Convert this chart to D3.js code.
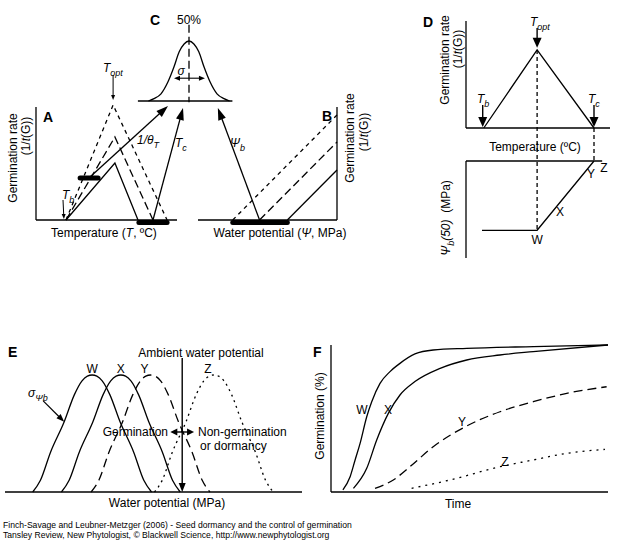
<!DOCTYPE html>
<html><head><meta charset="utf-8">
<script src="https://cdn.jsdelivr.net/npm/d3@7"></script>
<style>
body{margin:0;background:#fff}
text{font-family:"Liberation Sans",Arial,Helvetica,sans-serif;fill:#000;stroke:none}
</style>
</head><body>
<svg id="c" width="621" height="553"></svg>
<script>
// ---------------- DATA ----------------
// Panel A: temperature (°C) vs germination rate, three seed fractions
const aTb = 10;
const aSolid = [[10,0],[26.3,0.57],[34,0]];
const aLongDash = [[10,0],[26.3,0.83],[39,0]];
const aShortDash = [[10,0],[25.7,1.15],[43.7,0]];
const aSlopeBar = [14.7, 20.7];   // spread of 1/θT (rate 0.42)
const aTcBar = [34.3, 43.7];      // spread of Tc
// Panel B: water potential (MPa) vs germination rate
const bSolid = [[-0.50,0],[0,0.50]];
const bLongDash = [[-0.78,0],[0,0.78]];
const bShortDash = [[-1.05,0],[0,1.05]];
const bPsiBar = [-1.05, -0.50];
// Panel C: normal distribution profile (offset in σ, relative height)
const cProfile = [[-2.9,0],[-2.5,0.04],[-2,0.12],[-1.5,0.32],[-1.07,0.57],[-0.7,0.82],[-0.35,0.95],[0,1],
                  [0.35,0.95],[0.7,0.82],[1.07,0.57],[1.5,0.32],[2,0.12],[2.5,0.04],[2.9,0]];
// Panel D: cardinal temperatures, rate and Ψb(50)
const dTemps = [5, 20, 36];             // Tb, Topt, Tc
const dRates = [0, 0.73, 0];
const dPsi50 = [[4.5,-1.0],[20,-1.0],[36,0]];
const dLabels = ["W","X","Y","Z"];
// Panel E: Ψb distributions
const eNames = ["W","X","Y","Z"];
const eCenters = [-2.12, -1.83, -1.53, -0.89];
const eHalfWidth = 0.6;
const eProfile = [[-1,0],[-0.87,0.1],[-0.7,0.34],[-0.47,0.6],[-0.3,0.83],[-0.17,0.95],[-0.08,0.99],[0,1],
                  [0.08,0.99],[0.17,0.95],[0.3,0.83],[0.47,0.6],[0.7,0.34],[0.87,0.1],[1,0]];
const eAmbient = -1.21;
// Panel F: germination time courses (time %, germination %)
const fW = [[4.3,1.4],[6.9,10.4],[8.7,21.8],[10.5,33.1],[12.9,51.2],[14.7,61.4],[17.7,73.9],[21.3,81.9],[24.9,87.5],[30.3,93.9],[36.9,96.6],[49,97.7],[73.1,98.9],[100,100]];
const fX = [[8.1,2.5],[12.9,16.1],[16.5,35.4],[20.7,53.5],[24.9,66],[30.3,75.1],[39.4,84.1],[49,89.8],[61,93.2],[73,95.5],[100,100]];
const fY = [[15.9,2.5],[22.5,8.2],[28.5,17.2],[36.9,30.8],[49,44.9],[61,54.6],[73,61.4],[85.1,67.1],[99.5,71.6]];
const fZ = [[29.1,2.5],[43,8.2],[61,17.2],[73,21.8],[85.1,26.3],[98.9,29]];
const footer = ["Finch-Savage and Leubner-Metzger (2006) - Seed dormancy and the control of germination",
                "Tansley Review, New Phytologist, \u00A9 Blackwell Science, http://www.newphytologist.org"];

// ---------------- HELPERS ----------------
const svg = d3.select('#c');
const G = svg.append('g').attr('fill','none').attr('stroke','#000').attr('stroke-width',1.3);
const SD = '4,4', LD = '8,4';

function seg(x1,y1,x2,y2,dash,w){
  const l = G.append('line').attr('x1',x1).attr('y1',y1).attr('x2',x2).attr('y2',y2);
  if(dash) l.attr('stroke-dasharray',dash);
  if(w) l.attr('stroke-width',w);
  return l;
}
function poly(pts,xs,ys,dash,curve){
  const gen = d3.line().x(d=>xs(d[0])).y(d=>ys(d[1])).curve(curve||d3.curveLinear);
  const p = G.append('path').attr('d',gen(pts));
  if(dash) p.attr('stroke-dasharray',dash);
  return p;
}
function head(x1,y1,x2,y2,L,W){
  const dx=x2-x1, dy=y2-y1, d=Math.hypot(dx,dy), ux=dx/d, uy=dy/d;
  const bx=x2-ux*L, by=y2-uy*L;
  G.append('path').attr('fill','#000').attr('stroke','none')
   .attr('d',`M${x2},${y2}L${bx-uy*W/2},${by+ux*W/2}L${bx+uy*W/2},${by-ux*W/2}Z`);
  return [bx+ux*1.5, by+uy*1.5];
}
function arrow(x1,y1,x2,y2,L,W,sw){
  const [bx,by] = head(x1,y1,x2,y2,L,W);
  seg(x1,y1,bx,by,null,sw);
}
function darrow(x1,y1,x2,y2,L,W,sw){
  const [bx,by] = head(x1,y1,x2,y2,L,W);
  const [ax,ay] = head(x2,y2,x1,y1,L,W);
  seg(ax,ay,bx,by,null,sw);
}
function rich(sel,x,y,parts,anchor,size){
  size = size||12;
  const t = sel.append('text').attr('x',x).attr('y',y).attr('text-anchor',anchor||'start').attr('font-size',size);
  let shift = 0;
  parts.forEach(p=>{
    const [s,o] = Array.isArray(p)?[p[0],p[1]||{}]:[p,{}];
    const ts = t.append('tspan').text(s);
    if(o.i) ts.attr('font-style','italic');
    if(o.b) ts.attr('font-weight','bold');
    const target = o.sub ? size*0.3 : 0;
    ts.attr('dy', target-shift); shift = target;
    if(o.sub) ts.attr('font-size', size*0.75);
  });
  return t;
}
function rot(cx,cy,parts,size){
  const g = svg.append('g').attr('transform',`translate(${cx},${cy}) rotate(-90)`);
  rich(g,0,4.3,parts,'middle',size);
}
function bar(x1,x2,y){
  seg(x1,y,x2,y,null,5).attr('stroke-linecap','round');
}

// ---------------- PANEL A ----------------
const xA = d3.scaleLinear([0,47],[36,177]);
const yA = d3.scaleLinear([0,1.13],[220,107]);
seg(xA(0),yA(0),xA(0),yA(1.13));
seg(xA(0),yA(0),xA(47),yA(0));
poly(aShortDash,xA,yA,SD);
poly(aLongDash,xA,yA,LD);
poly(aSolid,xA,yA);
bar(xA(aSlopeBar[0]),xA(aSlopeBar[1]),yA(0.42));
bar(xA(aTcBar[0]),xA(aTcBar[1]),yA(-0.025));
arrow(xA(aTb-1),yA(0.2),xA(aTb-0.7),yA(0.01),5,4,1);
arrow(xA(aShortDash[1][0]),yA(1.45),xA(aShortDash[1][0]),yA(1.2),5,4,1);
arrow(xA(18),yA(0.43),xA(44),yA(1.14),12,8);
arrow(xA(aLongDash[2][0]),yA(0),xA(49),yA(1.12),12,8);
svg.append('text').attr('x',43).attr('y',122).attr('font-size',14).attr('font-weight','bold').text('A');
rot(13,158,['Germination rate']);
rot(26,136,['(1/',['t',{i:1}],'(G))']);
rich(svg,104,237,['Temperature (',['T',{i:1}],', \u00BAC)'],'middle');
rich(svg,103,72,[['T',{i:1}],['opt',{i:1,sub:1}]]);
rich(svg,62,199,[['T',{i:1}],['b',{i:1,sub:1}]]);
rich(svg,137,144,[['1/\u03B8',{i:1}],['T',{i:1,sub:1}]]);
rich(svg,175,147,[['T',{i:1}],['c',{i:1,sub:1}]]);

// ---------------- PANEL B ----------------
const xB = d3.scaleLinear([-1.4,0],[198,337]);
const yB = yA;
seg(xB(0),yB(0),xB(0),yB(1.13));
seg(xB(-1.4),yB(0),xB(0),yB(0));
poly(bShortDash,xB,yB,SD);
poly(bLongDash,xB,yB,LD);
poly(bSolid,xB,yB);
bar(xB(bPsiBar[0]),xB(bPsiBar[1]),yB(-0.025));
arrow(xB(bLongDash[0][0]),yB(0),xB(-1.2),yB(1.12),12,8);
svg.append('text').attr('x',322).attr('y',121).attr('font-size',14).attr('font-weight','bold').text('B');
rot(350,138,['Germination rate']);
rot(364,132,['(1/',['t',{i:1}],'(G))']);
rich(svg,280,237,['Water potential (',['\u03A8',{i:1}],', MPa)'],'middle');
rich(svg,230,147,[['\u03A8',{i:1}],['b',{i:1,sub:1}]]);

// ---------------- PANEL C ----------------
const xC = d3.scaleLinear([-3,3],[147,231]);
const yC = d3.scaleLinear([0,1],[101,41]);
seg(xC(-3.65),yC(0),xC(3.1),yC(0));
poly(cProfile,xC,yC,null,d3.curveMonotoneX);
seg(xC(0),yC(1.27),xC(0),yC(-0.02),LD);
darrow(xC(-1.07),yC(0.38),xC(1.14),yC(0.38),6,5,1.1);
svg.append('text').attr('x',150).attr('y',25).attr('font-size',14).attr('font-weight','bold').text('C');
rich(svg,xC(0),24,['50%'],'middle');
rich(svg,181,75,[['\u03C3',{i:1}]],'middle');

// ---------------- PANEL D ----------------
const xD = d3.scaleLinear([0,40.5],[466,610]);
const yD = d3.scaleLinear([0,1],[128,21]);
const yD2 = d3.scaleLinear([-1.4,0],[258,161]);
seg(xD(0),yD(0),xD(0),yD(1));
seg(xD(0),yD(0),xD(40.5),yD(0));
poly(dTemps.map((t,i)=>[t,dRates[i]]),xD,yD);
seg(xD(dTemps[1]),yD(dRates[1]),xD(dTemps[1]),yD2(dPsi50[1][1]),'4,3');
seg(xD(dTemps[2]),yD(0),xD(dTemps[2]),yD2(0),'4,3');
arrow(xD(dTemps[1]),yD(0.935),xD(dTemps[1]),yD(0.75),10,9,1.4);
arrow(xD(dTemps[0]-0.3),yD(0.215),xD(dTemps[0]-0.3),yD(0.01),10,9,1.4);
arrow(xD(dTemps[2]),yD(0.215),xD(dTemps[2]),yD(0.01),10,9,1.4);
seg(xD(0),yD2(0),xD(0),yD2(-1.4));
seg(xD(0),yD2(0),xD(38.3),yD2(0));
poly(dPsi50,xD,yD2);
svg.append('text').attr('x',423).attr('y',27).attr('font-size',14).attr('font-weight','bold').text('D');
rot(445,60,['Germination rate']);
rot(458,49,['(1/',['t',{i:1}],'(G))']);
rot(446,218,[['\u03A8',{i:1}],['b',{i:1,sub:1}],['(50)',{i:1}],'\u00A0\u00A0(MPa)']);
rich(svg,535,151,['Temperature (\u00BAC)'],'middle');
rich(svg,530,26,[['T',{i:1}],['opt',{i:1,sub:1}]]);
rich(svg,477,103,[['T',{i:1}],['b',{i:1,sub:1}]]);
rich(svg,588,103,[['T',{i:1}],['c',{i:1,sub:1}]]);
rich(svg,xD(dPsi50[1][0]),244,[dLabels[0]],'middle');
rich(svg,560,216,[dLabels[1]],'middle');
rich(svg,591,178,[dLabels[2]],'middle');
rich(svg,604,172,[dLabels[3]],'middle');

// ---------------- PANEL E ----------------
const xE = d3.scaleLinear([-3,0],[5,302]);
const yE = d3.scaleLinear([0,1],[492,375]);
seg(xE(-3),yE(0),xE(0),yE(0));
const eDash = [null,null,'9,5','2,4'];
eCenters.forEach((c,i)=>{
  poly(eProfile.map(([o,h])=>[c+o*eHalfWidth,h]),xE,yE,eDash[i],d3.curveMonotoneX);
});
arrow(xE(eAmbient),358,xE(eAmbient),yE(0),9,7,1.4);
darrow(xE(eAmbient-0.12),432,xE(eAmbient+0.12),432,7,7,1.4);
const tipX = xE(eCenters[0]-0.47*eHalfWidth), tipY = yE(0.6);
arrow(tipX-21,tipY-21,tipX,tipY,8,6,1.2);
svg.append('text').attr('x',8).attr('y',357).attr('font-size',14).attr('font-weight','bold').text('E');
const eLabX = [0,0,-0.06,-0.06];
eNames.forEach((n,i)=>rich(svg,xE(eCenters[i]+eLabX[i]),373,[n],'middle'));
rich(svg,28,397,[['\u03C3',{i:1}],['\u03A8b',{i:1,sub:1}]]);
rich(svg,201,357,['Ambient water potential'],'middle');
rich(svg,168,436,['Germination'],'end');
rich(svg,198,436,['Non-germination']);
rich(svg,200,450,['or dormancy']);
rich(svg,167,507,['Water potential (MPa)'],'middle');

// ---------------- PANEL F ----------------
const xF = d3.scaleLinear([0,100],[331,608]);
const yF = d3.scaleLinear([0,100],[492,345]);
seg(xF(0),yF(0),xF(0),yF(100));
seg(xF(0),yF(0),xF(100),yF(0));
poly(fW,xF,yF,null,d3.curveMonotoneX);
poly(fX,xF,yF,null,d3.curveMonotoneX);
poly(fY,xF,yF,'9,5',d3.curveMonotoneX);
poly(fZ,xF,yF,'2,5',d3.curveMonotoneX);
svg.append('text').attr('x',313).attr('y',357).attr('font-size',14).attr('font-weight','bold').text('F');
rot(320,416,['Germination (%)']);
rich(svg,458,508,['Time'],'middle');
rich(svg,362,414,['W'],'middle');
rich(svg,388,414,['X'],'middle');
rich(svg,462,426,['Y'],'middle');
rich(svg,505,466,['Z'],'middle');

// ---------------- FOOTER ----------------
footer.forEach((s,i)=>rich(svg,3,528+i*10,[s],'start',8.6));
</script>
</body></html>
